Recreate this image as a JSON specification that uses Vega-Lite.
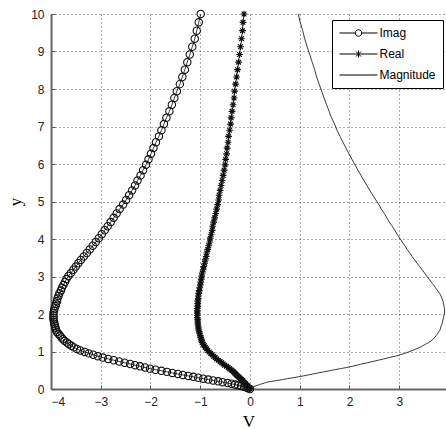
{
"$schema": "https://vega.github.io/schema/vega-lite/v6.json",
"width": 395, "height": 375,
"autosize": {"type": "none"},
"padding": {"left": 51, "top": 14, "right": 0, "bottom": 40},
"background": "white",
"config": {
  "view": {"stroke": null},
  "axis": {
    "domainColor": "#666", "domainWidth": 2,
    "tickColor": "#555", "tickSize": -4, "tickWidth": 1,
    "labelFont": "Liberation Sans", "labelFontSize": 12, "labelColor": "#222", "labelPadding": 11,
    "grid": true, "gridColor": "#333", "gridDash": [1, 3], "gridWidth": 1, "gridOpacity": 0.8,
    "titleFont": "Liberation Serif", "titleFontSize": 17, "titleFontWeight": "normal", "titleColor": "#000"
  },
  "legend": {"symbolOpacity": 1}
},
"data": {"values": [
{"y":0,"Imag":0,"Real":0,"Magnitude":0},
{"y":0.019,"Imag":-0.04,"Real":-0.01,"Magnitude":0.02},
{"y":0.038,"Imag":-0.07,"Real":-0.02,"Magnitude":0.04},
{"y":0.057,"Imag":-0.12,"Real":-0.04,"Magnitude":0.07},
{"y":0.077,"Imag":-0.18,"Real":-0.05,"Magnitude":0.10},
{"y":0.097,"Imag":-0.24,"Real":-0.06,"Magnitude":0.15},
{"y":0.118,"Imag":-0.30,"Real":-0.08,"Magnitude":0.19},
{"y":0.139,"Imag":-0.37,"Real":-0.09,"Magnitude":0.24},
{"y":0.160,"Imag":-0.45,"Real":-0.11,"Magnitude":0.29},
{"y":0.182,"Imag":-0.55,"Real":-0.12,"Magnitude":0.34},
{"y":0.204,"Imag":-0.64,"Real":-0.14,"Magnitude":0.44},
{"y":0.227,"Imag":-0.74,"Real":-0.15,"Magnitude":0.54},
{"y":0.251,"Imag":-0.84,"Real":-0.17,"Magnitude":0.65},
{"y":0.275,"Imag":-0.94,"Real":-0.19,"Magnitude":0.75},
{"y":0.299,"Imag":-1.04,"Real":-0.21,"Magnitude":0.86},
{"y":0.324,"Imag":-1.14,"Real":-0.23,"Magnitude":0.97},
{"y":0.349,"Imag":-1.24,"Real":-0.25,"Magnitude":1.07},
{"y":0.375,"Imag":-1.35,"Real":-0.27,"Magnitude":1.17},
{"y":0.402,"Imag":-1.45,"Real":-0.29,"Magnitude":1.27},
{"y":0.429,"Imag":-1.56,"Real":-0.31,"Magnitude":1.37},
{"y":0.457,"Imag":-1.67,"Real":-0.33,"Magnitude":1.48},
{"y":0.485,"Imag":-1.78,"Real":-0.36,"Magnitude":1.59},
{"y":0.514,"Imag":-1.90,"Real":-0.38,"Magnitude":1.70},
{"y":0.543,"Imag":-2.01,"Real":-0.41,"Magnitude":1.82},
{"y":0.573,"Imag":-2.11,"Real":-0.44,"Magnitude":1.94},
{"y":0.604,"Imag":-2.21,"Real":-0.47,"Magnitude":2.05},
{"y":0.636,"Imag":-2.31,"Real":-0.51,"Magnitude":2.15},
{"y":0.668,"Imag":-2.41,"Real":-0.54,"Magnitude":2.25},
{"y":0.700,"Imag":-2.52,"Real":-0.57,"Magnitude":2.36},
{"y":0.734,"Imag":-2.63,"Real":-0.60,"Magnitude":2.47},
{"y":0.768,"Imag":-2.74,"Real":-0.64,"Magnitude":2.58},
{"y":0.803,"Imag":-2.85,"Real":-0.67,"Magnitude":2.69},
{"y":0.838,"Imag":-2.96,"Real":-0.70,"Magnitude":2.80},
{"y":0.875,"Imag":-3.06,"Real":-0.73,"Magnitude":2.92},
{"y":0.912,"Imag":-3.15,"Real":-0.76,"Magnitude":3.02},
{"y":0.950,"Imag":-3.24,"Real":-0.79,"Magnitude":3.11},
{"y":0.989,"Imag":-3.32,"Real":-0.82,"Magnitude":3.19},
{"y":1.028,"Imag":-3.41,"Real":-0.85,"Magnitude":3.27},
{"y":1.069,"Imag":-3.48,"Real":-0.87,"Magnitude":3.34},
{"y":1.110,"Imag":-3.54,"Real":-0.90,"Magnitude":3.41},
{"y":1.152,"Imag":-3.59,"Real":-0.92,"Magnitude":3.47},
{"y":1.195,"Imag":-3.64,"Real":-0.94,"Magnitude":3.53},
{"y":1.239,"Imag":-3.68,"Real":-0.96,"Magnitude":3.59},
{"y":1.284,"Imag":-3.73,"Real":-0.97,"Magnitude":3.64},
{"y":1.330,"Imag":-3.76,"Real":-0.98,"Magnitude":3.68},
{"y":1.376,"Imag":-3.79,"Real":-0.99,"Magnitude":3.72},
{"y":1.424,"Imag":-3.82,"Real":-1.00,"Magnitude":3.74},
{"y":1.473,"Imag":-3.85,"Real":-1.01,"Magnitude":3.77},
{"y":1.523,"Imag":-3.88,"Real":-1.02,"Magnitude":3.79},
{"y":1.574,"Imag":-3.90,"Real":-1.03,"Magnitude":3.82},
{"y":1.626,"Imag":-3.91,"Real":-1.04,"Magnitude":3.83},
{"y":1.679,"Imag":-3.92,"Real":-1.04,"Magnitude":3.84},
{"y":1.733,"Imag":-3.93,"Real":-1.05,"Magnitude":3.86},
{"y":1.788,"Imag":-3.94,"Real":-1.05,"Magnitude":3.87},
{"y":1.845,"Imag":-3.95,"Real":-1.05,"Magnitude":3.88},
{"y":1.903,"Imag":-3.95,"Real":-1.06,"Magnitude":3.89},
{"y":1.961,"Imag":-3.95,"Real":-1.06,"Magnitude":3.90},
{"y":2.022,"Imag":-3.95,"Real":-1.06,"Magnitude":3.91},
{"y":2.083,"Imag":-3.94,"Real":-1.06,"Magnitude":3.91},
{"y":2.146,"Imag":-3.93,"Real":-1.06,"Magnitude":3.91},
{"y":2.210,"Imag":-3.91,"Real":-1.05,"Magnitude":3.90},
{"y":2.276,"Imag":-3.90,"Real":-1.05,"Magnitude":3.89},
{"y":2.342,"Imag":-3.88,"Real":-1.05,"Magnitude":3.88},
{"y":2.411,"Imag":-3.87,"Real":-1.04,"Magnitude":3.86},
{"y":2.481,"Imag":-3.85,"Real":-1.04,"Magnitude":3.84},
{"y":2.552,"Imag":-3.83,"Real":-1.03,"Magnitude":3.81},
{"y":2.624,"Imag":-3.80,"Real":-1.02,"Magnitude":3.77},
{"y":2.699,"Imag":-3.78,"Real":-1.01,"Magnitude":3.73},
{"y":2.775,"Imag":-3.75,"Real":-1.00,"Magnitude":3.69},
{"y":2.852,"Imag":-3.72,"Real":-0.99,"Magnitude":3.64},
{"y":2.931,"Imag":-3.69,"Real":-0.98,"Magnitude":3.60},
{"y":3.012,"Imag":-3.65,"Real":-0.97,"Magnitude":3.55},
{"y":3.094,"Imag":-3.60,"Real":-0.96,"Magnitude":3.51},
{"y":3.179,"Imag":-3.55,"Real":-0.94,"Magnitude":3.46},
{"y":3.265,"Imag":-3.50,"Real":-0.93,"Magnitude":3.41},
{"y":3.353,"Imag":-3.45,"Real":-0.91,"Magnitude":3.36},
{"y":3.442,"Imag":-3.40,"Real":-0.90,"Magnitude":3.31},
{"y":3.534,"Imag":-3.34,"Real":-0.88,"Magnitude":3.26},
{"y":3.628,"Imag":-3.28,"Real":-0.87,"Magnitude":3.21},
{"y":3.723,"Imag":-3.22,"Real":-0.85,"Magnitude":3.16},
{"y":3.821,"Imag":-3.16,"Real":-0.83,"Magnitude":3.11},
{"y":3.920,"Imag":-3.10,"Real":-0.81,"Magnitude":3.06},
{"y":4.022,"Imag":-3.04,"Real":-0.80,"Magnitude":3.01},
{"y":4.126,"Imag":-2.98,"Real":-0.78,"Magnitude":2.96},
{"y":4.232,"Imag":-2.92,"Real":-0.76,"Magnitude":2.91},
{"y":4.341,"Imag":-2.86,"Real":-0.75,"Magnitude":2.86},
{"y":4.451,"Imag":-2.80,"Real":-0.73,"Magnitude":2.80},
{"y":4.564,"Imag":-2.74,"Real":-0.71,"Magnitude":2.75},
{"y":4.680,"Imag":-2.68,"Real":-0.69,"Magnitude":2.70},
{"y":4.798,"Imag":-2.62,"Real":-0.67,"Magnitude":2.64},
{"y":4.918,"Imag":-2.55,"Real":-0.65,"Magnitude":2.59},
{"y":5.041,"Imag":-2.49,"Real":-0.63,"Magnitude":2.53},
{"y":5.167,"Imag":-2.43,"Real":-0.62,"Magnitude":2.47},
{"y":5.295,"Imag":-2.37,"Real":-0.60,"Magnitude":2.41},
{"y":5.426,"Imag":-2.31,"Real":-0.58,"Magnitude":2.35},
{"y":5.560,"Imag":-2.26,"Real":-0.56,"Magnitude":2.29},
{"y":5.696,"Imag":-2.20,"Real":-0.54,"Magnitude":2.23},
{"y":5.836,"Imag":-2.15,"Real":-0.52,"Magnitude":2.17},
{"y":5.978,"Imag":-2.09,"Real":-0.50,"Magnitude":2.11},
{"y":6.124,"Imag":-2.04,"Real":-0.49,"Magnitude":2.05},
{"y":6.272,"Imag":-1.99,"Real":-0.47,"Magnitude":1.99},
{"y":6.424,"Imag":-1.94,"Real":-0.46,"Magnitude":1.93},
{"y":6.579,"Imag":-1.89,"Real":-0.44,"Magnitude":1.87},
{"y":6.737,"Imag":-1.83,"Real":-0.43,"Magnitude":1.81},
{"y":6.899,"Imag":-1.78,"Real":-0.41,"Magnitude":1.75},
{"y":7.064,"Imag":-1.73,"Real":-0.39,"Magnitude":1.70},
{"y":7.232,"Imag":-1.68,"Real":-0.38,"Magnitude":1.64},
{"y":7.404,"Imag":-1.62,"Real":-0.36,"Magnitude":1.59},
{"y":7.580,"Imag":-1.57,"Real":-0.34,"Magnitude":1.54},
{"y":7.760,"Imag":-1.52,"Real":-0.32,"Magnitude":1.49},
{"y":7.943,"Imag":-1.47,"Real":-0.31,"Magnitude":1.44},
{"y":8.130,"Imag":-1.41,"Real":-0.29,"Magnitude":1.39},
{"y":8.321,"Imag":-1.36,"Real":-0.27,"Magnitude":1.34},
{"y":8.516,"Imag":-1.31,"Real":-0.25,"Magnitude":1.30},
{"y":8.716,"Imag":-1.26,"Real":-0.23,"Magnitude":1.25},
{"y":8.919,"Imag":-1.21,"Real":-0.21,"Magnitude":1.20},
{"y":9.127,"Imag":-1.16,"Real":-0.19,"Magnitude":1.15},
{"y":9.339,"Imag":-1.11,"Real":-0.17,"Magnitude":1.10},
{"y":9.556,"Imag":-1.07,"Real":-0.15,"Magnitude":1.06},
{"y":9.778,"Imag":-1.03,"Real":-0.14,"Magnitude":1.01},
{"y":10,"Imag":-0.99,"Real":-0.12,"Magnitude":0.97}
]},
"transform": [{"fold": ["Imag", "Real", "Magnitude"], "as": ["series", "v"]}],
"encoding": {
  "x": {"field": "v", "type": "quantitative",
        "scale": {"domain": [-4, 3.94], "nice": false, "zero": false},
        "axis": {"title": "V", "values": [-4, -3, -2, -1, 0, 1, 2, 3, 4], "titlePadding": 6}},
  "y": {"field": "y", "type": "quantitative",
        "scale": {"domain": [0, 10], "nice": false},
        "axis": {"title": "y", "values": [0, 1, 2, 3, 4, 5, 6, 7, 8, 9, 10], "titlePadding": 6}},
  "order": {"field": "y", "type": "quantitative"}
},
"layer": [
  {"mark": {"type": "line", "color": "#222", "strokeWidth": 0.9},
   "encoding": {"detail": {"field": "series", "type": "nominal"}}},
  {"transform": [{"filter": "datum.series === 'Imag'"}],
   "mark": {"type": "point", "shape": "circle", "filled": false, "size": 55, "stroke": "#111", "strokeWidth": 1.05, "opacity": 1}},
  {"transform": [{"filter": "datum.series === 'Real'"}],
   "mark": {"type": "point", "shape": "M-1,0H1M0,-1V1M-0.7,-0.7L0.7,0.7M-0.7,0.7L0.7,-0.7", "filled": false, "size": 45, "stroke": "#111", "strokeWidth": 1.15, "opacity": 1}},
  {"mark": {"type": "point", "opacity": 0, "filled": false},
   "encoding": {
     "shape": {"field": "series", "type": "nominal",
       "scale": {"domain": ["Imag", "Real", "Magnitude"],
                 "range": ["M-3.8,0H-0.65M0.65,0H3.8M-0.65,0A0.65,0.65,0,1,1,0.65,0A0.65,0.65,0,1,1,-0.65,0",
                           "M-3.8,0H3.8M0,-0.7V0.7M-0.5,-0.5L0.5,0.5M-0.5,0.5L0.5,-0.5",
                           "M-3.8,0H3.8"]},
       "legend": {"title": null, "orient": "none", "legendX": 281, "legendY": 6,
                  "strokeColor": "#000", "fillColor": "white", "padding": 7,
                  "symbolSize": 100, "symbolOffset": 13.5, "labelOffset": 15,
                  "symbolStrokeColor": "#000", "symbolFillColor": "white", "symbolStrokeWidth": 1,
                  "symbolOpacity": 1,
                  "labelFont": "Liberation Sans", "labelFontSize": 12, "labelColor": "#000",
                  "rowPadding": 9}}
   }}
]
}
